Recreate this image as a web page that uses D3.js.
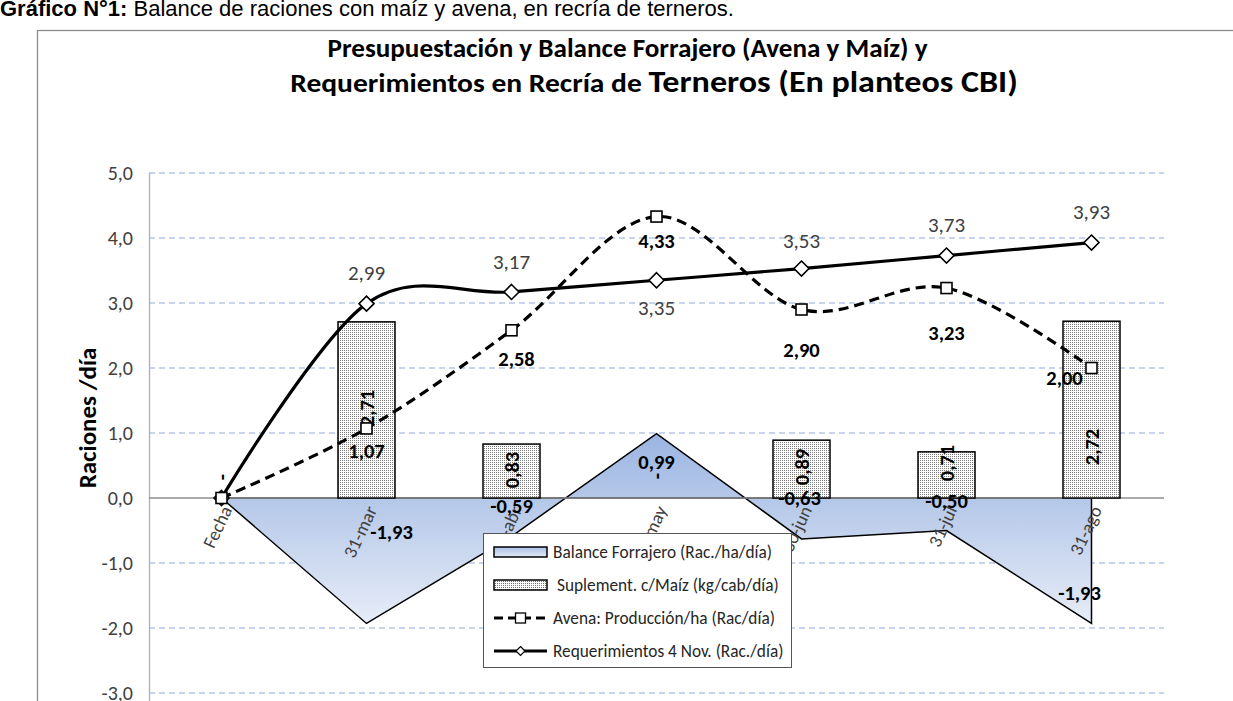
<!DOCTYPE html>
<html>
<head>
<meta charset="utf-8">
<script src="https://cdn.jsdelivr.net/npm/d3@7"></script>
<style>
  body { margin: 0; background: #fff; }
  svg { display: block; }
</style>
</head>
<body>
<div id="chart"></div>
<script>
const categories = ['Fecha', '31-mar', '30-abr', '31-may', '30-jun', '31-jul', '31-ago'];
const balance = [0, -1.93, -0.59, 0.99, -0.63, -0.50, -1.93];
const suplemento = [0, 2.71, 0.83, 0, 0.89, 0.71, 2.72];
const avena = [0, 1.07, 2.58, 4.33, 2.90, 3.23, 2.00];
const requerimientos = [0, 2.99, 3.17, 3.35, 3.53, 3.73, 3.93];
const yTicks = [-3, -2, -1, 0, 1, 2, 3, 4, 5];
const legendLabels = [
    'Balance Forrajero (Rac./ha/día)',
    'Suplement. c/Maíz (kg/cab/día)',
    'Avena: Producción/ha (Rac/día)',
    'Requerimientos 4 Nov. (Rac./día)'
];

const W = 1233, H = 701;
const font = "Carlito, Calibri, 'Open Sans', sans-serif";
const fmt = v => d3.format('.2f')(v).replace('.', ',').replace('−', '-');

const svg = d3.select('#chart')
    .append('svg')
    .attr('width', W)
    .attr('height', H)
    .style('font-family', font);

const defs = svg.append('defs');

// scales
const x = d3.scaleBand()
    .domain(categories)
    .range([149, 1164]);
const cx = d => x(d) + x.bandwidth() / 2;

const y = d3.scaleLinear()
    .domain([-3, 5])
    .range([693, 173]);

// gradient for balance area
const grad = defs.append('linearGradient')
    .attr('id', 'balGrad')
    .attr('gradientUnits', 'userSpaceOnUse')
    .attr('x1', 0).attr('x2', 0)
    .attr('y1', y(1)).attr('y2', y(-2));
grad.append('stop').attr('offset', 0).attr('stop-color', '#9ab4e1');
grad.append('stop').attr('offset', 1).attr('stop-color', '#e9eef8');

const legGrad = defs.append('linearGradient')
    .attr('id', 'legGrad')
    .attr('x1', 0).attr('x2', 0).attr('y1', 0).attr('y2', 1);
legGrad.append('stop').attr('offset', 0).attr('stop-color', '#a9c0e8');
legGrad.append('stop').attr('offset', 1).attr('stop-color', '#e2e9f6');

// dotted pattern for bars
const pat = defs.append('pattern')
    .attr('id', 'dots')
    .attr('patternUnits', 'userSpaceOnUse')
    .attr('width', 2).attr('height', 2);
pat.append('rect').attr('width', 2).attr('height', 2).attr('fill', '#fff');
pat.append('rect').attr('width', 1).attr('height', 1).attr('fill', '#7a7a7a');

// caption at top (cut off in the source)
const cap = svg.append('text')
    .attr('x', 0)
    .attr('y', 16)
    .style('font-family', 'Liberation Sans, Arial, sans-serif')
    .style('font-size', '22px')
    .style('fill', '#000');
cap.append('tspan').style('font-weight', 'bold').text('Gráfico N°1:');
cap.append('tspan').text(' Balance de raciones con maíz y avena, en recría de terneros.');

// outer frame
svg.append('rect')
    .attr('x', 37.5)
    .attr('y', 30.5)
    .attr('width', 1300)
    .attr('height', 800)
    .attr('fill', 'none')
    .attr('stroke', '#8c8c8c')
    .attr('stroke-width', 1.3);

// title
function fitWidth(sel, left, right, baseY) {
    const w = sel.node().getBBox().width;
    sel.attr('transform', 'translate(' + ((left + right) / 2) + ',' + baseY + ') scale(' + ((right - left) / w) + ',1)');
}
const t1 = svg.append('text')
    .attr('text-anchor', 'middle')
    .style('font-weight', 'bold')
    .style('font-size', '26px')
    .style('fill', '#000')
    .text('Presupuestación y Balance Forrajero (Avena y Maíz) y');
fitWidth(t1, 327, 928, 57);

const t2 = svg.append('text')
    .attr('text-anchor', 'middle')
    .style('font-weight', 'bold')
    .style('fill', '#000');
t2.append('tspan').style('font-size', '26px').text('Requerimientos en Recría de ');
t2.append('tspan').style('font-size', '30px').text('Terneros (En planteos CBI)');
fitWidth(t2, 290, 1018, 92);

// gridlines
svg.append('g')
    .selectAll('line')
    .data(yTicks.filter(d => d !== 0))
    .join('line')
    .attr('x1', 149)
    .attr('x2', 1164)
    .attr('y1', d => y(d))
    .attr('y2', d => y(d))
    .attr('stroke', '#b4c7e7')
    .attr('stroke-width', 1.3)
    .attr('stroke-dasharray', '6,4');

// y axis
const yAxis = svg.append('g')
    .attr('transform', 'translate(149,0)')
    .call(d3.axisLeft(y).tickValues(yTicks).tickSize(0).tickPadding(16)
        .tickFormat(d => d3.format('.1f')(d).replace('.', ',').replace('−', '-')));
yAxis.select('.domain').remove();
yAxis.selectAll('text')
    .style('font-family', font)
    .style('font-size', '20px')
    .style('fill', '#404040');

svg.append('line')
    .attr('x1', 149.5).attr('x2', 149.5)
    .attr('y1', y(5)).attr('y2', H)
    .attr('stroke', '#b0b0b0')
    .attr('stroke-width', 1.3);

svg.append('text')
    .attr('transform', 'translate(96,' + 418 + ') rotate(-90)')
    .attr('text-anchor', 'middle')
    .style('font-weight', 'bold')
    .style('font-size', '25px')
    .style('fill', '#000')
    .text('Raciones /día');

// balance area
const area = d3.area()
    .x((d, i) => cx(categories[i]))
    .y0(y(0))
    .y1(d => y(d));
svg.append('path')
    .datum(balance)
    .attr('d', area)
    .attr('fill', 'url(#balGrad)')
    .attr('stroke', '#000')
    .attr('stroke-width', 1.5)
    .attr('stroke-linejoin', 'miter');

// x axis line
svg.append('line')
    .attr('x1', 149).attr('x2', 1164)
    .attr('y1', y(0)).attr('y2', y(0))
    .attr('stroke', '#8f8f8f')
    .attr('stroke-width', 1.5);

// x tick labels
svg.append('g')
    .selectAll('text')
    .data(categories)
    .join('text')
    .attr('transform', d => 'translate(' + (cx(d) + 5) + ',' + (y(0) + 9) + ') rotate(-65)')
    .attr('text-anchor', 'end')
    .attr('dy', '0.35em')
    .style('font-size', '18.5px')
    .style('fill', '#404040')
    .text(d => d);

// bars
const barW = 57;
svg.append('g')
    .selectAll('rect')
    .data(suplemento.map((v, i) => ({ c: categories[i], v: v })).filter(d => d.v > 0))
    .join('rect')
    .attr('x', d => cx(d.c) - barW / 2)
    .attr('y', d => y(d.v))
    .attr('width', barW)
    .attr('height', d => y(0) - y(d.v))
    .attr('fill', 'url(#dots)')
    .attr('stroke', '#000')
    .attr('stroke-width', 1.5);

// bar labels (rotated), offsets from zero line
const barLabelDy = [-21, -90, -28, -22, -31, -35, -51];
svg.append('g')
    .selectAll('text')
    .data(suplemento)
    .join('text')
    .attr('transform', (d, i) => 'translate(' + cx(categories[i]) + ',' + (y(0) + barLabelDy[i]) + ') rotate(-90)')
    .attr('text-anchor', 'middle')
    .attr('dy', '0.35em')
    .style('font-weight', 'bold')
    .style('font-size', '20.5px')
    .style('fill', '#000')
    .text(d => d === 0 ? '-' : fmt(d));

// lines
const smooth = d3.line()
    .x((d, i) => cx(categories[i]))
    .y(d => y(d))
    .curve(d3.curveCardinal.tension(0));

svg.append('path')
    .datum(requerimientos)
    .attr('d', smooth)
    .attr('fill', 'none')
    .attr('stroke', '#000')
    .attr('stroke-width', 3.2);

svg.append('path')
    .datum(avena)
    .attr('d', smooth)
    .attr('fill', 'none')
    .attr('stroke', '#000')
    .attr('stroke-width', 3.2)
    .attr('stroke-dasharray', '10,6');

// markers
const diamond = s => 'M0,' + (-s) + 'L' + s + ',0L0,' + s + 'L' + (-s) + ',0Z';
svg.append('g')
    .selectAll('path')
    .data(requerimientos)
    .join('path')
    .attr('transform', (d, i) => 'translate(' + cx(categories[i]) + ',' + y(d) + ')')
    .attr('d', diamond(7.5))
    .attr('fill', '#fff')
    .attr('stroke', '#000')
    .attr('stroke-width', 1.6);

svg.append('g')
    .selectAll('rect')
    .data(avena)
    .join('rect')
    .attr('x', (d, i) => cx(categories[i]) - 5.5)
    .attr('y', d => y(d) - 5.5)
    .attr('width', 11)
    .attr('height', 11)
    .attr('fill', '#fff')
    .attr('stroke', '#000')
    .attr('stroke-width', 1.6);

// data labels
function labels(values, offsets, weight, color, size) {
    svg.append('g')
        .selectAll('text')
        .data(values.map((v, i) => ({ v: v, i: i })).filter(d => d.i > 0))
        .join('text')
        .attr('x', d => cx(categories[d.i]) + offsets[d.i][0])
        .attr('y', d => y(d.v) + offsets[d.i][1])
        .attr('text-anchor', 'middle')
        .attr('dy', '0.35em')
        .style('font-weight', weight)
        .style('font-size', size)
        .style('fill', color)
        .text(d => fmt(d.v));
}
labels(balance, [[0, 0], [25, -92], [0, -31], [0, 28], [-2, -41], [0, -30], [-12, -31]], 'bold', '#000', '20.5px');
labels(avena, [[0, 0], [0, 22], [5, 29], [0, 24], [0, 40], [0, 45], [-27, 10]], 'bold', '#000', '20.5px');
labels(requerimientos, [[0, 0], [0, -31], [0, -30], [0, 27], [0, -28], [0, -31], [0, -31]], 'normal', '#404040', '21px');

// legend
const lg = svg.append('g').attr('transform', 'translate(483,533)');
lg.append('rect')
    .attr('x', 0.5).attr('y', 0.5)
    .attr('width', 308).attr('height', 134)
    .attr('fill', '#fff')
    .attr('stroke', '#555')
    .attr('stroke-width', 1);

const rowY = [19, 52, 85, 118];
lg.append('rect')
    .attr('x', 11).attr('y', rowY[0] - 5)
    .attr('width', 53).attr('height', 10)
    .attr('fill', 'url(#legGrad)')
    .attr('stroke', '#000')
    .attr('stroke-width', 1.5);
lg.append('rect')
    .attr('x', 11).attr('y', rowY[1] - 5)
    .attr('width', 53).attr('height', 10)
    .attr('fill', 'url(#dots)')
    .attr('stroke', '#000')
    .attr('stroke-width', 1.5);
lg.append('line')
    .attr('x1', 11).attr('x2', 64)
    .attr('y1', rowY[2]).attr('y2', rowY[2])
    .attr('stroke', '#000')
    .attr('stroke-width', 3)
    .attr('stroke-dasharray', '9,5');
lg.append('rect')
    .attr('x', 32.5).attr('y', rowY[2] - 5)
    .attr('width', 10).attr('height', 10)
    .attr('fill', '#fff')
    .attr('stroke', '#000')
    .attr('stroke-width', 1.3);
lg.append('line')
    .attr('x1', 11).attr('x2', 64)
    .attr('y1', rowY[3]).attr('y2', rowY[3])
    .attr('stroke', '#000')
    .attr('stroke-width', 3);
lg.append('path')
    .attr('transform', 'translate(37.5,' + rowY[3] + ')')
    .attr('d', diamond(4.5))
    .attr('fill', '#fff')
    .attr('stroke', '#000')
    .attr('stroke-width', 1.2);

lg.selectAll('.legtext')
    .data(legendLabels)
    .join('text')
    .attr('class', 'legtext')
    .attr('x', (d, i) => i === 1 ? 74 : 70)
    .attr('y', (d, i) => rowY[i])
    .attr('dy', '0.35em')
    .style('font-size', '17.3px')
    .style('fill', '#262626')
    .text(d => d);
</script>
</body>
</html>
